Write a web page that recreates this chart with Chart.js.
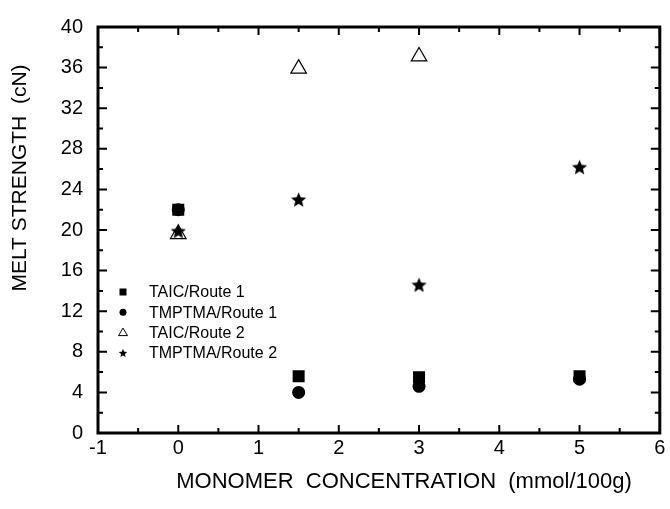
<!DOCTYPE html>
<html>
<head>
<meta charset="utf-8">
<script src="https://cdn.jsdelivr.net/npm/chart.js@4.4.0/dist/chart.umd.min.js"></script>
<style>
html, body { margin: 0; padding: 0; background: #fff; }
</style>
</head>
<body>
<canvas id="chart" width="670" height="509"></canvas>
<script>
// values
const seriesNames = ['TAIC/Route 1', 'TMPTMA/Route 1', 'TAIC/Route 2', 'TMPTMA/Route 2'];
const taicRoute1X = [0, 1.5, 3, 5];
const taicRoute1Y = [22, 5.6, 5.5, 5.6];
const tmptmaRoute1X = [0, 1.5, 3, 5];
const tmptmaRoute1Y = [22, 4.0, 4.6, 5.3];
const taicRoute2X = [0, 1.5, 3];
const taicRoute2Y = [19.6, 35.9, 37.1];
const tmptmaRoute2X = [0, 1.5, 3, 5];
const tmptmaRoute2Y = [19.9, 23, 14.6, 26.2];

const xTitle = 'MONOMER  CONCENTRATION  (mmol/100g)';
const yTitle = 'MELT STRENGTH  (cN)';

const xMin = -1, xMax = 6, xStep = 1;
const yMin = 0, yMax = 40, yStep = 4;

const FONT = "'Liberation Sans', Arial, sans-serif";

function toPoints(xs, ys) {
    return xs.map((x, i) => ({ x: x, y: ys[i] }));
}

function makeStar(size) {
    const c = document.createElement('canvas');
    c.width = size;
    c.height = size;
    const g = c.getContext('2d');
    const cx = size / 2, cy = size / 2 + size * 0.04;
    const R = size / 2 - 0.5, r = R * 0.45;
    g.beginPath();
    for (let i = 0; i < 10; i++) {
        const rad = i % 2 === 0 ? R : r;
        const a = -Math.PI / 2 + i * Math.PI / 5;
        const px = cx + rad * Math.cos(a);
        const py = cy + rad * Math.sin(a);
        if (i === 0) g.moveTo(px, py); else g.lineTo(px, py);
    }
    g.closePath();
    g.fillStyle = '#000';
    g.fill();
    return c;
}

const starBig = makeStar(17);
const starSmall = makeStar(10);

// frame with inward ticks on all four sides
const frameTicks = {
    id: 'frameTicks',
    beforeDatasetsDraw(chart) {
        const ctx = chart.ctx;
        const a = chart.chartArea;
        const xs = chart.scales.x, ys = chart.scales.y;
        ctx.save();
        ctx.strokeStyle = '#000';
        ctx.lineWidth = 2;
        ctx.beginPath();
        for (let v = xMin; v <= xMax + 1e-9; v += 0.5) {
            const px = xs.getPixelForValue(v);
            const len = Math.abs(v - Math.round(v)) < 1e-9 ? 8 : 5;
            ctx.moveTo(px, a.bottom); ctx.lineTo(px, a.bottom - len);
            ctx.moveTo(px, a.top); ctx.lineTo(px, a.top + len);
        }
        for (let v = yMin; v <= yMax + 1e-9; v += 2) {
            const py = ys.getPixelForValue(v);
            const len = v % 4 === 0 ? 9 : 5;
            ctx.moveTo(a.left, py); ctx.lineTo(a.left + len, py);
            ctx.moveTo(a.right, py); ctx.lineTo(a.right - len, py);
        }
        ctx.stroke();
        ctx.lineWidth = 3;
        ctx.strokeRect(a.left, a.top, a.right - a.left, a.bottom - a.top);
        ctx.restore();
    }
};

// axis titles (the original sits them off-centre)
const axisTitles = {
    id: 'axisTitles',
    afterDraw(chart) {
        const ctx = chart.ctx;
        ctx.save();
        ctx.fillStyle = '#000';
        ctx.textAlign = 'center';
        ctx.textBaseline = 'middle';
        ctx.font = '22px ' + FONT;
        ctx.fillText(xTitle, 404, 482);
        ctx.translate(20, 178);
        ctx.rotate(-Math.PI / 2);
        ctx.font = '21px ' + FONT;
        ctx.fillText(yTitle, 0, 0);
        ctx.restore();
    }
};

// legend inside the plot, lower left
const innerLegend = {
    id: 'innerLegend',
    afterDraw(chart) {
        const ctx = chart.ctx;
        const a = chart.chartArea;
        const mx = a.left + 25, tx = a.left + 51;
        const y0 = 292, dy = 20.3;
        ctx.save();
        ctx.font = '16px ' + FONT;
        ctx.textBaseline = 'middle';
        ctx.textAlign = 'left';
        ctx.fillStyle = '#000';
        ctx.strokeStyle = '#000';
        ctx.lineWidth = 1;
        chart.data.datasets.forEach((ds, i) => {
            const y = y0 + i * dy;
            if (i === 0) {
                ctx.fillRect(mx - 3.5, y - 3.5, 7, 7);
            } else if (i === 1) {
                ctx.beginPath();
                ctx.arc(mx, y, 3.5, 0, Math.PI * 2);
                ctx.fill();
            } else if (i === 2) {
                ctx.beginPath();
                ctx.moveTo(mx, y - 4.5);
                ctx.lineTo(mx + 4.5, y + 3);
                ctx.lineTo(mx - 4.5, y + 3);
                ctx.closePath();
                ctx.stroke();
            } else {
                ctx.drawImage(starSmall, mx - 5, y - 5);
            }
            ctx.fillText(ds.label, tx, y + 1);
        });
        ctx.restore();
    }
};

new Chart(document.getElementById('chart'), {
    type: 'scatter',
    data: {
        datasets: [
            {
                label: seriesNames[0],
                data: toPoints(taicRoute1X, taicRoute1Y),
                pointStyle: 'rect',
                pointRadius: 8.5,
                backgroundColor: '#000',
                borderColor: '#000',
                borderWidth: 0
            },
            {
                label: seriesNames[1],
                data: toPoints(tmptmaRoute1X, tmptmaRoute1Y),
                pointStyle: 'circle',
                pointRadius: 6.5,
                backgroundColor: '#000',
                borderColor: '#000',
                borderWidth: 0
            },
            {
                label: seriesNames[2],
                data: toPoints(taicRoute2X, taicRoute2Y),
                pointStyle: 'triangle',
                pointRadius: 9,
                backgroundColor: 'rgba(255,255,255,0)',
                borderColor: '#000',
                borderWidth: 1.2
            },
            {
                label: seriesNames[3],
                data: toPoints(tmptmaRoute2X, tmptmaRoute2Y),
                pointStyle: starBig,
                pointRadius: 8,
                backgroundColor: '#000',
                borderColor: '#000'
            }
        ]
    },
    options: {
        responsive: false,
        animation: false,
        events: [],
        layout: {
            padding: { left: 0, right: 9, top: 25, bottom: 0 }
        },
        scales: {
            x: {
                type: 'linear',
                min: xMin,
                max: xMax,
                grid: { display: false, drawTicks: false },
                border: { display: false },
                ticks: {
                    stepSize: xStep,
                    padding: 3,
                    color: '#000',
                    font: { family: FONT, size: 20 }
                },
                afterFit(scale) { scale.height = 76; }
            },
            y: {
                type: 'linear',
                min: yMin,
                max: yMax,
                grid: { display: false, drawTicks: false },
                border: { display: false },
                ticks: {
                    stepSize: yStep,
                    padding: 15,
                    color: '#000',
                    font: { family: FONT, size: 20 }
                },
                afterFit(scale) { scale.width = 98; }
            }
        },
        plugins: {
            legend: { display: false },
            tooltip: { enabled: false }
        }
    },
    plugins: [frameTicks, axisTitles, innerLegend]
});
</script>
</body>
</html>
